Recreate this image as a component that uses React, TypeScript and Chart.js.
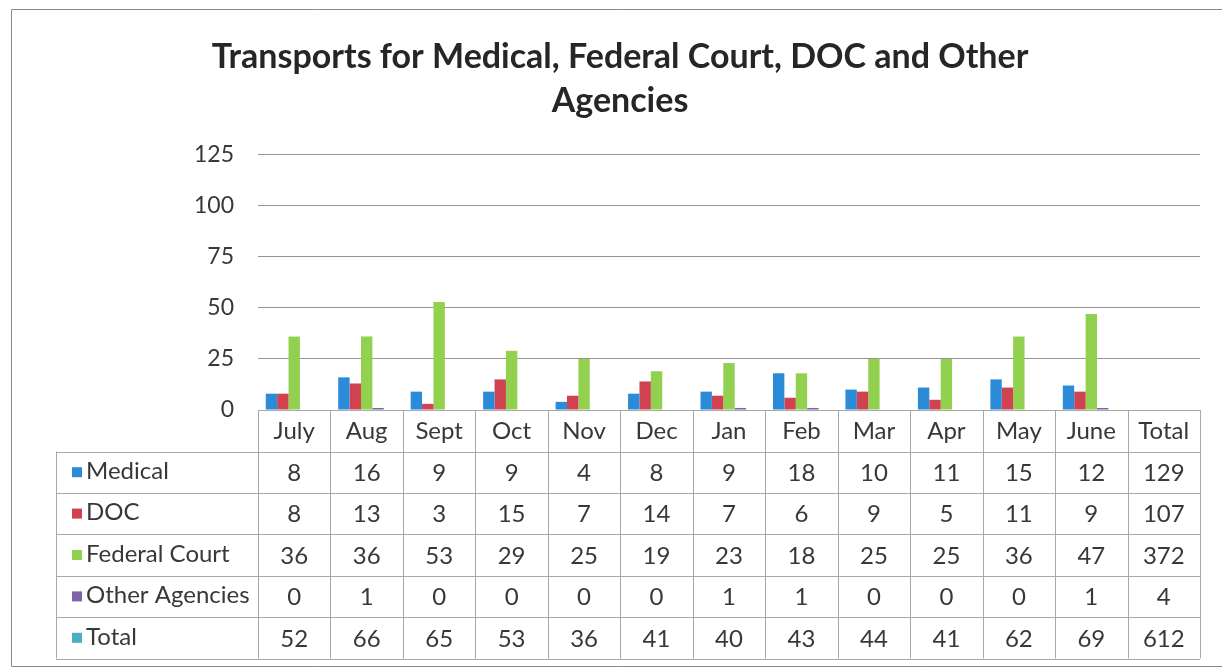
import React, { useEffect, useRef } from "react";
import { Chart, registerables } from "chart.js";

Chart.register(...registerables);

const months = ["July", "Aug", "Sept", "Oct", "Nov", "Dec", "Jan", "Feb", "Mar", "Apr", "May", "June"];
const categories = [...months, "Total"];
const medical = [8, 16, 9, 9, 4, 8, 9, 18, 10, 11, 15, 12];
const doc = [8, 13, 3, 15, 7, 14, 7, 6, 9, 5, 11, 9];
const federalCourt = [36, 36, 53, 29, 25, 19, 23, 18, 25, 25, 36, 47];
const otherAgencies = [0, 1, 0, 0, 0, 0, 1, 1, 0, 0, 0, 1];
const monthTotals = [52, 66, 65, 53, 36, 41, 40, 43, 44, 41, 62, 69];
const rowTotals = [129, 107, 372, 4, 612];
const seriesNames = ["Medical", "DOC", "Federal Court", "Other Agencies", "Total"];
const seriesColors = ["#2C8BD8", "#D0424F", "#92D050", "#7E63A6", "#4BACC6"];
const seriesValues = [medical, doc, federalCourt, otherAgencies, monthTotals];
const titleLines = ["Transports for Medical, Federal Court, DOC and Other", "Agencies"];

const FONT = "Lato, 'Open Sans', sans-serif";
const TEXT = "#383838";

const tablePlugin = {
  id: "dataTable",
  afterDraw(chart: any) {
    const ctx = chart.ctx as CanvasRenderingContext2D;
    const xs = chart.scales.x;
    const area = chart.chartArea;
    const n = categories.length;
    const colW = (area.right - area.left) / n;
    const top = area.bottom;
    const headerH = 41.5;
    const rowH = 41.4;
    const labelLeft = 56;
    const bottom = top + headerH + rowH * seriesNames.length;
    ctx.save();
    ctx.strokeStyle = "#a8a8a8";
    ctx.lineWidth = 1;
    ctx.beginPath();
    for (let i = 0; i <= n; i++) {
      const xx = Math.round(area.left + i * colW) + 0.5;
      ctx.moveTo(xx, top);
      ctx.lineTo(xx, bottom);
    }
    ctx.moveTo(labelLeft + 0.5, top + headerH);
    ctx.lineTo(labelLeft + 0.5, bottom);
    ctx.moveTo(area.left, Math.round(top) + 0.5);
    ctx.lineTo(area.right, Math.round(top) + 0.5);
    for (let r = 0; r <= seriesNames.length; r++) {
      const yy = Math.round(top + headerH + r * rowH) + 0.5;
      ctx.moveTo(labelLeft, yy);
      ctx.lineTo(area.right, yy);
    }
    ctx.stroke();

    ctx.fillStyle = TEXT;
    ctx.font = `24px ${FONT}`;
    ctx.textAlign = "center";
    ctx.textBaseline = "middle";
    categories.forEach((c, i) => {
      ctx.fillText(c, xs.getPixelForValue(i), top + headerH / 2 + 1);
    });
    seriesNames.forEach((name, r) => {
      const cy = top + headerH + r * rowH + rowH / 2;
      ctx.fillStyle = seriesColors[r];
      ctx.fillRect(72, cy - 5, 10, 10);
      ctx.fillStyle = TEXT;
      ctx.textAlign = "left";
      ctx.fillText(name, 86, cy - 1);
      ctx.textAlign = "center";
      seriesValues[r].forEach((v, i) => {
        ctx.fillText(String(v), xs.getPixelForValue(i), cy + 1);
      });
      ctx.fillText(String(rowTotals[r]), xs.getPixelForValue(n - 1), cy + 1);
    });

    // outer frame
    ctx.strokeStyle = "#8a8a8a";
    ctx.beginPath();
    ctx.moveTo(1230, 9.5);
    ctx.lineTo(11.5, 9.5);
    ctx.lineTo(11.5, 666.5);
    ctx.lineTo(1230, 666.5);
    ctx.stroke();
    ctx.restore();
  },
};

export default function App() {
  const ref = useRef<HTMLCanvasElement | null>(null);
  useEffect(() => {
    if (!ref.current) return;
    const chart = new Chart(ref.current, {
      type: "bar",
      data: {
        labels: categories,
        datasets: seriesNames.map((name, i) => ({
          label: name,
          data: seriesValues[i],
          backgroundColor: i === 4 ? "rgba(0,0,0,0)" : seriesColors[i],
          borderWidth: 0,
          categoryPercentage: 0.786,
          barPercentage: 1.0,
        })),
      },
      options: {
        animation: false,
        responsive: false,
        layout: { padding: { left: 40, right: 22, top: 0, bottom: 0 } },
        plugins: {
          legend: { display: false },
          tooltip: { enabled: false },
          title: {
            display: true,
            text: titleLines,
            color: "#262626",
            font: { family: FONT, size: 34, weight: "bold", lineHeight: 1.294 },
            padding: { top: 35, bottom: 32 },
          },
        },
        scales: {
          x: {
            grid: { display: false },
            border: { display: false },
            ticks: { display: false },
            afterFit: (s: any) => {
              s.height = 259;
            },
          },
          y: {
            min: 0,
            max: 125,
            ticks: {
              stepSize: 25,
              color: TEXT,
              font: { family: FONT, size: 23 },
              padding: 24,
            },
            grid: { color: "#959595", drawTicks: false },
            border: { display: false },
            afterFit: (s: any) => {
              s.width = 218;
            },
          },
        },
      },
      plugins: [tablePlugin],
    });
    return () => chart.destroy();
  }, []);
  return (
    <div style={{ position: "fixed", left: 0, top: 0, width: 1222, height: 669, background: "#fff" }}>
      <canvas ref={ref} width={1222} height={669} style={{ width: 1222, height: 669 }} />
    </div>
  );
}
